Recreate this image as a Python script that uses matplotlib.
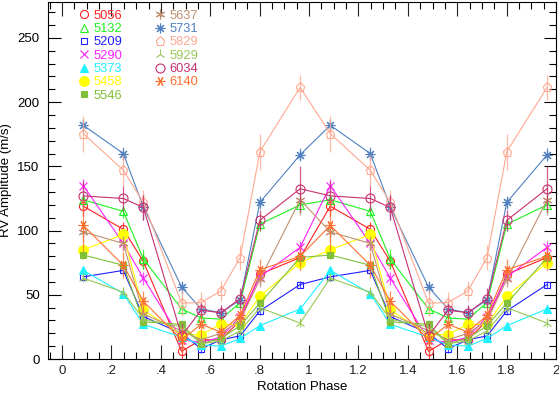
import numpy as np
import matplotlib
matplotlib.use("Agg")
import matplotlib.pyplot as plt
from matplotlib.lines import Line2D
from matplotlib.ticker import MultipleLocator, FuncFormatter

plt.rcParams['font.family'] = ['Liberation Sans', 'DejaVu Sans']

phase = [0.086, 0.248, 0.329, 0.484, 0.563, 0.643, 0.721, 0.801, 0.964]

labels = ["5056", "5132", "5209", "5290", "5373", "5458", "5546",
          "5637", "5731", "5829", "5929", "6034", "6140"]

v5056 = [119, 101, 76, 6, 15, 15, 30, 66, 79]
v5132 = [124, 115, 78, 39, 32, 31, 44, 105, 120]
v5209 = [64, 69, 33, 20, 8, 15, 18, 37.5, 58]
v5290 = [135, 90, 63, 15, 13, 17, 33, 64, 87]
v5373 = [69, 51, 27, 17, 11, 10, 16, 26, 39]
v5458 = [85, 97, 38, 19, 19, 27, 27, 49, 75]
v5546 = [81, 73, 29, 27, 12, 16, 26, 43.5, 79]
v5637 = [99, 90, 35, 22, 15, 20, 30, 62, 124]
v5731 = [182, 160, 118.5, 56, 39, 36, 46, 122, 159]
v5829 = [175.5, 147, 122, 43.5, 44, 53, 79, 161.5, 211.5]
v5929 = [63, 52, 31, 25, 12, 14, 22, 40, 28]
v6034 = [127, 125, 118, 18, 38, 36, 47, 108, 132.6]
v6140 = [104, 73, 45, 15, 27, 21, 34, 69.5, 80]

e5056 = [8, 6, 6, 8, 5, 5, 5, 6, 10]
e5132 = [5, 5, 8, 5, 4, 4, 4, 5, 6]
e5209 = [3, 3, 3, 3, 3, 3, 3, 3, 3]
e5290 = [5, 5, 5, 4, 4, 4, 4, 5, 5]
e5373 = [3, 3, 3, 3, 3, 3, 3, 3, 3]
e5458 = [3, 3, 3, 3, 3, 3, 3, 3, 3]
e5546 = [3, 3, 3, 3, 3, 3, 3, 3, 3]
e5637 = [8, 6, 6, 6, 5, 5, 5, 6, 12]
e5731 = [5, 5, 10, 5, 5, 5, 5, 5, 5]
e5829 = [14, 12, 10, 10, 8, 8, 10, 14, 10]
e5929 = [3, 3, 3, 3, 3, 3, 3, 3, 3]
e6034 = [12, 10, 10, 10, 6, 6, 8, 8, 18]
e6140 = [20, 10, 8, 10, 8, 6, 6, 8, 8]

values = [v5056, v5132, v5209, v5290, v5373, v5458, v5546,
          v5637, v5731, v5829, v5929, v6034, v6140]
errors = [e5056, e5132, e5209, e5290, e5373, e5458, e5546,
          e5637, e5731, e5829, e5929, e6034, e6140]

colors = ['#ff2020', '#20f020', '#2020ff', '#ff20ff', '#20f0ff', '#ffff00',
          '#80c038', '#c09070', '#5080c0', '#ffa890', '#98c858', '#c83070',
          '#ff7030']
markers = ['o', '^', 's', 'x', '^', 'o', 's',
           (6, 2, 0), (8, 2, 0), 'p', '2', 'o', (6, 2, 90)]
filled = [False, False, False, True, True, True, True,
          True, True, False, True, False, True]
msizes = [5.8, 5.8, 5, 5.8, 5.8, 7, 5, 7, 7, 6.8, 7.5, 6.5, 7]

fig = plt.figure(figsize=(5.59, 3.95), dpi=100)
ax = fig.add_axes([0.0859, 0.0911, 0.9087, 0.9038])

ph2 = np.concatenate([np.array(phase), np.array(phase) + 1.0])
handles = []
for lab, v, e, c, m, f, ms in zip(labels, values, errors, colors, markers, filled, msizes):
    y = np.concatenate([v, v])
    err = np.concatenate([e, e])
    ax.errorbar(ph2, y, yerr=err, fmt='none', ecolor=c, elinewidth=0.9, capsize=0, alpha=0.8)
    kw = dict(color=c, marker=m, markersize=ms, linewidth=0.8, markeredgewidth=0.8)
    if f:
        kw.update(markerfacecolor=c, markeredgecolor=c)
    else:
        kw.update(markerfacecolor='none', markeredgecolor=c)
    ax.plot(ph2, y, **kw)
    handles.append(Line2D([], [], linestyle='none', label=lab,
                          **{k: kw[k] for k in kw if k != 'linewidth'}))

leg = ax.legend(handles=handles, ncol=2, loc='upper left', bbox_to_anchor=(0.045, 1.0),
                frameon=False, fontsize=9.3, labelcolor='linecolor', handlelength=0.8,
                handletextpad=0.35, labelspacing=0.1, columnspacing=2.5, borderaxespad=0.2)

ax.set_xlim(-0.057, 2.0)
ax.set_ylim(0, 278)
ax.xaxis.set_major_locator(MultipleLocator(0.2))
ax.xaxis.set_minor_locator(MultipleLocator(0.05))
ax.yaxis.set_major_locator(MultipleLocator(50))
ax.yaxis.set_minor_locator(MultipleLocator(10))

def fmt(x, pos):
    s = ('%.1f' % x).rstrip('0').rstrip('.')
    if s.startswith('0.'):
        s = s[1:]
    return s
ax.xaxis.set_major_formatter(FuncFormatter(fmt))

ax.tick_params(axis='x', which='major', direction='in', length=10, width=0.8, top=True, bottom=True, labelsize=9.5, pad=4, colors='#222222')
ax.tick_params(axis='x', which='minor', direction='in', length=5, width=0.8, top=True, bottom=True)
ax.tick_params(axis='y', which='major', direction='in', length=9, width=0.8, left=True, right=True, labelsize=9.5, pad=6)
ax.tick_params(axis='y', which='minor', direction='in', length=5, width=0.8, left=True, right=True)

ax.set_xlabel('Rotation Phase', fontsize=9.5, labelpad=3)
ax.set_ylabel('RV Amplitude (m/s)', fontsize=9.5, labelpad=4)

fig.savefig('out.png', dpi=100)
